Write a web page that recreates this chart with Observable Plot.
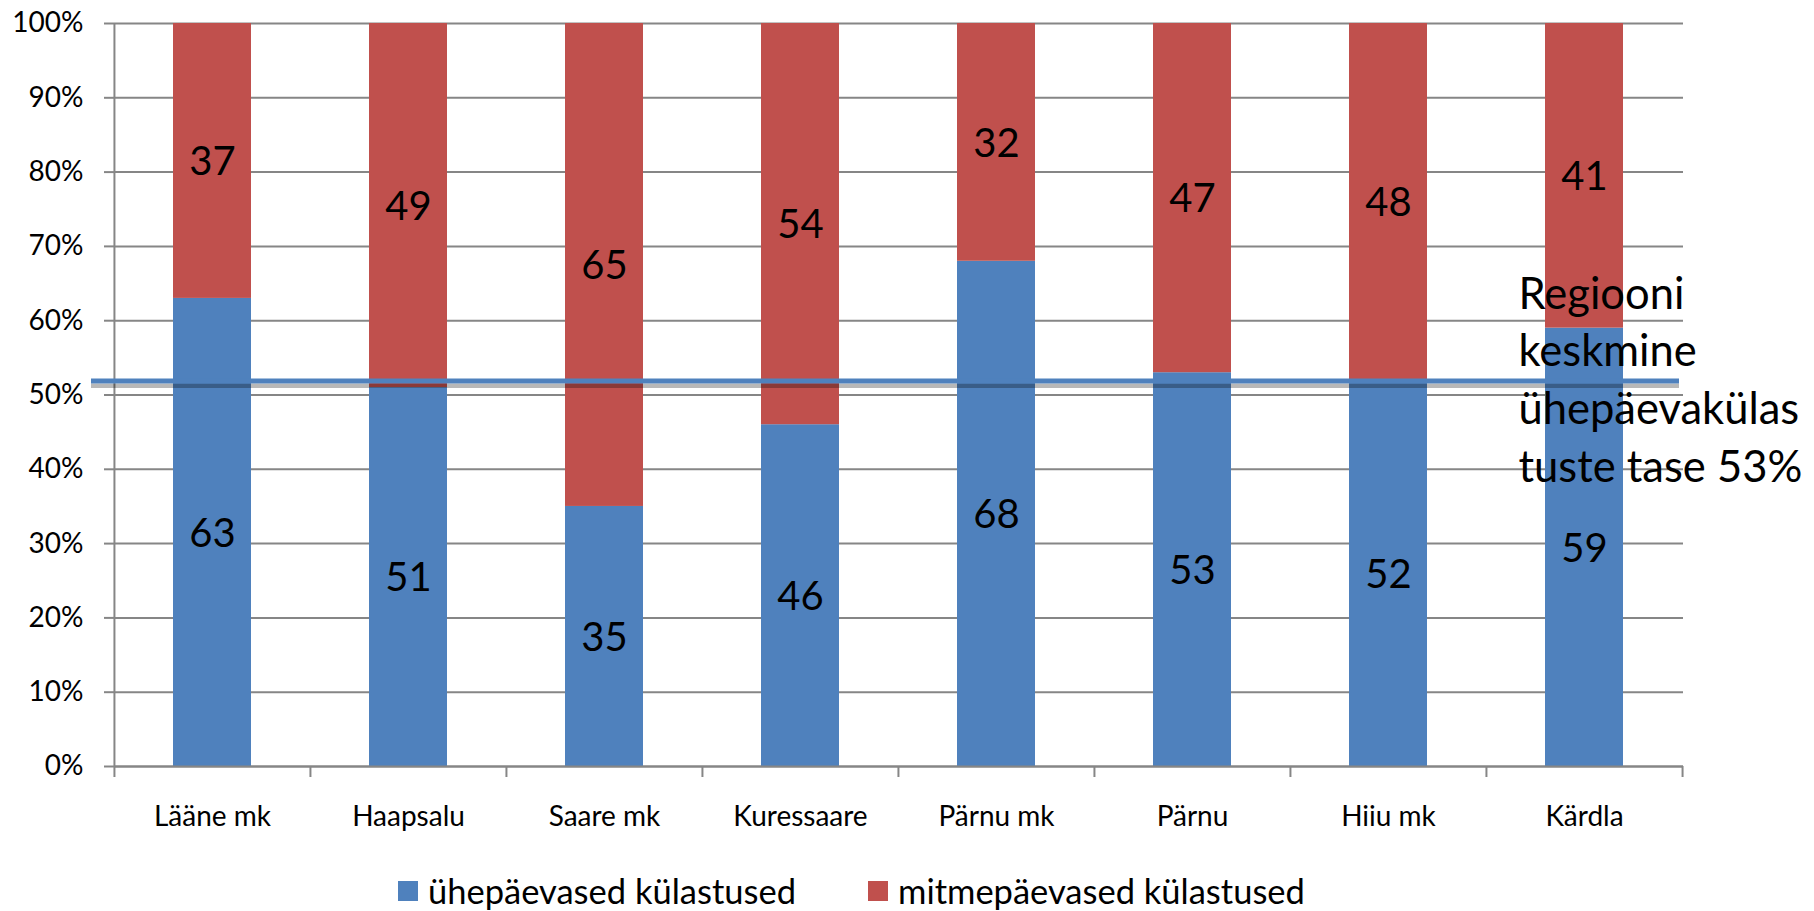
<!DOCTYPE html>
<html>
<head>
<meta charset="utf-8">
<script src="https://cdn.jsdelivr.net/npm/d3@7"></script>
<script src="https://cdn.jsdelivr.net/npm/@observablehq/plot@0.6"></script>
<style>
  html, body { margin: 0; padding: 0; background: #fff; }
  #legend { position: relative; width: 1814px; height: 55px; font-family: Lato, sans-serif; font-size: 34.5px; color: #000; }
  .item { position: absolute; top: 14px; display: flex; align-items: center; white-space: nowrap; }
  .sw { width: 20px; height: 20px; margin-right: 10px; }
</style>
</head>
<body>
<div id="chart"></div>
<div id="legend"></div>
<script>
const categories = ["Lääne mk", "Haapsalu", "Saare mk", "Kuressaare", "Pärnu mk", "Pärnu", "Hiiu mk", "Kärdla"];
const oneDay = [63, 51, 35, 46, 68, 53, 52, 59];
const multiDay = [37, 49, 65, 54, 32, 47, 48, 41];
const seriesNames = ["ühepäevased külastused", "mitmepäevased külastused"];
const seriesColors = ["#4F81BD", "#C0504D"];
const yTicks = [0, 10, 20, 30, 40, 50, 60, 70, 80, 90, 100];
const regionLevel = 51.9;
const annotationLines = ["Regiooni", "keskmine", "ühepäevakülas", "tuste tase 53%"];

const data = categories.flatMap((c, i) => [
  {cat: c, series: seriesNames[0], value: oneDay[i]},
  {cat: c, series: seriesNames[1], value: multiDay[i]}
]);
const annotation = [{cat: categories[categories.length - 1], level: regionLevel, label: annotationLines.join("\n")}];

const W = 1814, mL = 114, mR = 131;
const step = (W - mL - mR) / categories.length;
const gray = "#868686";

const plot = Plot.plot({
  width: W,
  height: 856,
  marginLeft: mL,
  marginRight: mR,
  marginTop: 23,
  marginBottom: 90,
  style: {fontFamily: "Lato, sans-serif", background: "white", color: "black"},
  x: {domain: categories, paddingInner: 0.6, paddingOuter: 0.3, label: null},
  y: {domain: [0, 100], label: null},
  color: {domain: seriesNames, range: seriesColors},
  marks: [
    Plot.gridY({ticks: yTicks, stroke: gray, strokeOpacity: 1, strokeWidth: 2}),
    Plot.barY(data, {x: "cat", y: "value", fill: "series"}),
    Plot.ruleY([0], {stroke: gray, strokeWidth: 2}),
    Plot.ruleX([categories[0]], {y1: 0, y2: 100, dx: -step / 2, stroke: gray, strokeWidth: 2}),
    Plot.axisY({ticks: yTicks, tickSize: 10, fill: "none", stroke: gray, strokeWidth: 2}),
    Plot.axisY({ticks: yTicks, tickSize: 0, tickPadding: 31, tickFormat: d => d + "%", fontSize: 28, fill: "black", stroke: "none"}),
    Plot.axisX({tickSize: 11, dx: -step / 2, fill: "none", stroke: gray, strokeWidth: 2}),
    Plot.axisX({ticks: [categories[categories.length - 1]], tickSize: 11, dx: step / 2, fill: "none", stroke: gray, strokeWidth: 2}),
    Plot.axisX({tickSize: 0, tickPadding: 40, fontSize: 28, fill: "black", stroke: "none"}),
    Plot.text(data, Plot.stackY({x: "cat", y: "value", text: d => String(d.value), fontSize: 40, fill: "black", dy: 1.5})),
    Plot.ruleY([regionLevel], {stroke: "#000", strokeOpacity: 0.28, strokeWidth: 4.5, dy: 4.8, insetLeft: -23, insetRight: 4}),
    Plot.ruleY([regionLevel], {stroke: "#4F81BD", strokeWidth: 5, insetLeft: -23, insetRight: 4}),
    Plot.text(annotation, {x: "cat", y: "level", text: "label", textAnchor: "start", lineAnchor: "middle", lineHeight: 1.33, fontSize: 43.5, dx: -66, dy: -4, fill: "black"})
  ]
});
document.getElementById("chart").appendChild(plot);

const legend = document.getElementById("legend");
const lefts = [398, 868];
seriesNames.forEach((name, i) => {
  const item = document.createElement("div");
  item.className = "item";
  item.style.left = lefts[i] + "px";
  const sw = document.createElement("span");
  sw.className = "sw";
  sw.style.background = seriesColors[i];
  const t = document.createElement("span");
  t.textContent = name;
  item.appendChild(sw);
  item.appendChild(t);
  legend.appendChild(item);
});
</script>
</body>
</html>
